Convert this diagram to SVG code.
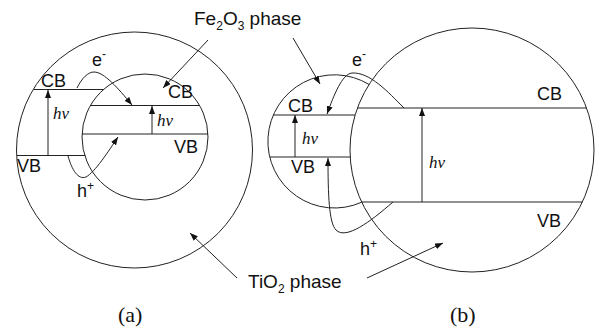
<svg xmlns="http://www.w3.org/2000/svg" width="597" height="333" viewBox="0 0 597 333">
<defs>
<style>
.ln{fill:none;stroke:#222;stroke-width:1}
.t{font-family:"Liberation Sans",Arial,sans-serif;font-size:18px;fill:#111}
.ph{font-family:"Liberation Sans",Arial,sans-serif;font-size:19px;fill:#111}
.hv{font-family:"Liberation Serif","Times New Roman",serif;font-style:italic;font-size:17px;fill:#111}
.cap{font-family:"Liberation Serif","Times New Roman",serif;font-size:22px;fill:#111}
.sub{font-size:12px}
</style>
<marker id="ah" viewBox="0 0 8 6" refX="8" refY="3" markerWidth="8" markerHeight="6" markerUnits="userSpaceOnUse" orient="auto">
<path d="M0,0 L8,3 L0,6 z" fill="#111"/>
</marker>
</defs>
<rect width="597" height="333" fill="#fff"/>

<g id="a-TiO2">
<circle class="ln" cx="134.5" cy="150" r="118"/>
<line class="ln" x1="33.7" y1="89.5" x2="104" y2="89.5"/>
<line class="ln" x1="17" y1="155.5" x2="85" y2="155.5"/>
<text class="t" x="41" y="87">CB</text>
<text class="t" x="17" y="172">VB</text>
<text class="hv" x="53" y="119">hν</text>
</g>
<g id="a-Fe2O3">
<circle class="ln" cx="145" cy="137" r="63"/>
<line class="ln" x1="91" y1="105.5" x2="199" y2="105.5"/>
<line class="ln" x1="82" y1="134" x2="208" y2="134"/>
<text class="t" x="168" y="98">CB</text>
<text class="t" x="174" y="153">VB</text>
<text class="hv" x="157" y="126">hν</text>
</g>
<g id="a-labels">
<text class="t" x="92" y="66">e<tspan class="sub" dy="-8">-</tspan></text>
<text class="t" x="77" y="197">h<tspan class="sub" dy="-7">+</tspan></text>
<text class="cap" x="118" y="322">(a)</text>
</g>

<g id="b-TiO2">
<circle class="ln" cx="472" cy="150" r="122"/>
<line class="ln" x1="357.5" y1="108" x2="586.5" y2="108"/>
<line class="ln" x1="361.6" y1="202" x2="582.4" y2="202"/>
<text class="t" x="537" y="100">CB</text>
<text class="t" x="537" y="227">VB</text>
<text class="hv" x="429" y="168">hν</text>
</g>
<g id="b-Fe2O3">
<path class="ln" d="M369.1,84.5 A66.6,66.6 0 1 0 361.7,202.2"/>
<line class="ln" x1="273.4" y1="115" x2="355.1" y2="115"/>
<line class="ln" x1="269.8" y1="157" x2="350.2" y2="157"/>
<text class="t" x="288" y="112">CB</text>
<text class="t" x="291" y="173">VB</text>
<text class="hv" x="302" y="144">hν</text>
</g>
<g id="b-labels">
<text class="t" x="352" y="66">e<tspan class="sub" dy="-8">-</tspan></text>
<text class="t" x="360" y="255">h<tspan class="sub" dy="-7">+</tspan></text>
<text class="cap" x="450" y="322">(b)</text>
</g>

<g id="phase-labels">
<text class="ph" x="194" y="25">Fe<tspan class="sub" dy="5">2</tspan><tspan dy="-5">O</tspan><tspan class="sub" dy="5">3</tspan><tspan dy="-5"> phase</tspan></text>
<text class="ph" x="248" y="288">TiO<tspan class="sub" dy="5">2</tspan><tspan dy="-5"> phase</tspan></text>
</g>

<g id="connectors">
<line class="ln" x1="48" y1="155.5" x2="48" y2="90" marker-end="url(#ah)"/>
<line class="ln" x1="152" y1="134" x2="152" y2="106" marker-end="url(#ah)"/>
<path class="ln" d="M77,88 C82,78 88,72 94,72 C104,72 118,88 132,105" marker-end="url(#ah)"/>
<path class="ln" d="M68,156 C72,170 78,180 86,177 C95,172 108,152 118,137" marker-end="url(#ah)"/>
<line class="ln" x1="208" y1="40" x2="163" y2="88" marker-end="url(#ah)"/>
<line class="ln" x1="237" y1="278" x2="190" y2="233" marker-end="url(#ah)"/>
<line class="ln" x1="295" y1="157" x2="295" y2="115" marker-end="url(#ah)"/>
<line class="ln" x1="422" y1="202" x2="422" y2="108" marker-end="url(#ah)"/>
<path class="ln" d="M404,108 C388,92 370,72 352,73 C342,74 334,95 327,114" marker-end="url(#ah)"/>
<path class="ln" d="M393,202 C370,222 346,240 336,230 C329,223 328,195 328,158" marker-end="url(#ah)"/>
<line class="ln" x1="293" y1="38" x2="320" y2="84" marker-end="url(#ah)"/>
<line class="ln" x1="367" y1="278" x2="443" y2="243" marker-end="url(#ah)"/>
</g>
</svg>
